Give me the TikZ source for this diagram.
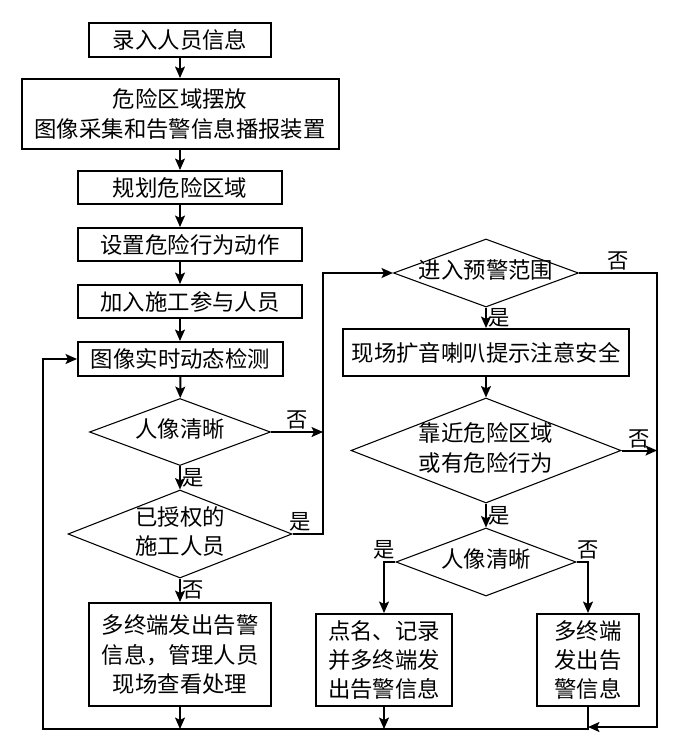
\documentclass[tikz,border=0pt]{standalone}
\usepackage{fontspec}
\setmainfont{Noto Sans CJK SC}
\usetikzlibrary{shapes.geometric, arrows.meta, positioning, calc}
\newcommand{\dtxt}[1]{\makebox[0pt]{\begin{tabular}{@{}c@{}}#1\end{tabular}}}

\begin{document}
\begin{tikzpicture}[
        x=0.75pt, y=-0.75pt,
        font=\fontsize{16.8}{22}\selectfont,
        block/.style={rectangle, draw, line width=1.5pt, align=center, inner sep=0pt},
        decision/.style={diamond, draw, line width=0.8pt, aspect=2.6, inner sep=0pt},
        arr/.style={line width=1.5pt, -{Stealth[length=3mm, width=2.6mm, inset=0.6mm]}},
        lbl/.style={font=\fontsize{16}{18}\selectfont, inner sep=1pt}
    ]
        \useasboundingbox (0,0) rectangle (685,752);

        % left column
        \node[block, minimum width=136.5pt, minimum height=25.5pt] (b1) at (180, 40) {录入人员信息};
        \node[block, minimum width=237.75pt, minimum height=52.5pt] (b2) at (180, 114) {危险区域摆放\\图像采集和告警信息播报装置};
        \node[block, minimum width=153pt, minimum height=24.75pt] (b3) at (180, 187.5) {规划危险区域};
        \node[block, minimum width=168pt, minimum height=24.75pt] (b4) at (190, 244.5) {设置危险行为动作};
        \node[block, minimum width=168pt, minimum height=24.75pt] (b5) at (190, 301.5) {加入施工参与人员};
        \node[block, minimum width=153.75pt, minimum height=25.5pt] (b6) at (180.5, 359) {图像实时动态检测};
        \node[decision, minimum width=135.75pt, minimum height=50.25pt] (d1) at (180, 432) {\dtxt{人像清晰}};
        \node[decision, minimum width=168pt, minimum height=66pt] (d2) at (180, 534) {\dtxt{已授权的\\施工人员}};
        \node[block, minimum width=136.5pt, minimum height=77.25pt] (b7) at (180, 654.5) {多终端发出告警\\信息，管理人员\\现场查看处理};

        % right column
        \node[decision, minimum width=138.75pt, minimum height=51pt] (d3) at (486, 273) {\dtxt{进入预警范围}};
        \node[block, minimum width=214.5pt, minimum height=35.25pt] (b8) at (486, 352.5) {现场扩音喇叭提示注意安全};
        \node[decision, minimum width=202.5pt, minimum height=78.75pt] (d4) at (486, 450.5) {\dtxt{靠近危险区域\\或有危险行为}};
        \node[decision, minimum width=135pt, minimum height=51pt] (d5) at (486, 562) {\dtxt{人像清晰}};
        \node[block, minimum width=102pt, minimum height=69pt] (b9) at (384, 660) {点名、记录\\并多终端发\\出告警信息};
        \node[block, minimum width=76.5pt, minimum height=69pt] (b10) at (588, 660) {多终端\\发出告\\警信息};

        \coordinate (lx) at (43, 729);
        \coordinate (mx) at (323, 0);
        \coordinate (rx) at (657, 727);

        \draw[arr] (b1) -- (b2);
        \draw[arr] (b2) -- (b3);
        \draw[arr] (b3.south) -- (b3.south |- b4.north);
        \draw[arr] (b4.south -| b1) -- (b5.north -| b1);
        \draw[arr] (b5.south -| b1) -- (b6.north -| b1);
        \draw[arr] (b6) -- (d1);
        \draw[arr] (d1) -- node[lbl, right] {是} (d2);
        \draw[arr] (d2) -- node[lbl, right] {否} (b7);
        \draw[arr] (d1.east) -- node[lbl, above] {否} (d1.east -| mx);
        \draw[arr] (d2.east) -- node[lbl, above, pos=0.25] {是} (d2.east -| mx) |- (d3.west);

        \draw[arr] (d3) -- node[lbl, right] {是} (b8);
        \draw[arr] (b8) -- (d4);
        \draw[arr] (d4) -- node[lbl, right] {是} (d5);
        \draw[arr] (d4.east) -- node[lbl, above] {否} (d4.east -| rx);
        \draw[arr] (d3.east) -- node[lbl, above] {否} (d3.east -| rx) -- (rx) -- (rx -| b10);
        \draw[arr] (d5.west) -| node[lbl, above, pos=0.5] {是} (b9.north);
        \draw[arr] (d5.east) -| node[lbl, above, pos=0.5] {否} (b10.north);

        \draw[arr] (b7) -- (b7 |- lx);
        \draw[arr] (b9) -- (b9 |- lx);
        \draw[arr] (b10) -- (b10 |- lx) -- (lx) |- (b6.west);
    \end{tikzpicture}
\end{document}
